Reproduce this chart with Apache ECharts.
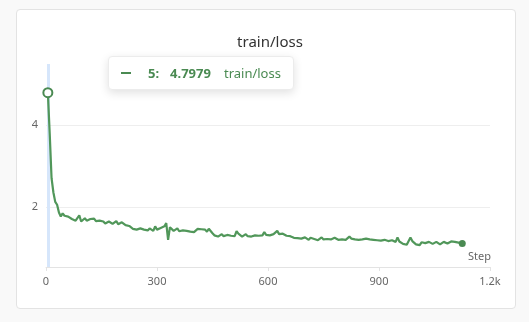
<!DOCTYPE html>
<html>
<head>
<meta charset="utf-8">
<script src="https://cdn.jsdelivr.net/npm/echarts@6/dist/echarts.min.js"></script>
<style>
html,body{margin:0;padding:0;background:#f9f9f9;width:529px;height:322px;overflow:hidden;}
#card{position:absolute;left:16px;top:9px;width:498px;height:298px;background:#fff;border:1px solid #e3e3e3;border-radius:4px;}
#chart{position:absolute;left:0;top:0;width:529px;height:322px;}
</style>
</head>
<body>
<div id="card"></div>
<div id="chart"></div>
<script>
const title = 'train/loss';
const xName = 'Step';
const xTickValues = [0, 300, 600, 900, 1200];
const xTickLabels = ['0', '300', '600', '900', '1.2k'];
const yTickValues = [2, 4];
const steps = [
  5,10,15,20,25,30,35,40,45,50,
  55,60,65,70,75,80,85,90,95,100,
  105,110,115,120,125,130,135,140,145,150,
  155,160,165,170,175,180,185,190,195,200,
  205,210,215,220,225,230,235,240,245,250,
  255,260,265,270,275,280,285,290,295,300,
  305,310,315,320,325,330,335,340,345,350,
  355,360,365,370,375,380,385,390,395,400,
  405,410,415,420,425,430,435,440,445,450,
  455,460,465,470,475,480,485,490,495,500,
  505,510,515,520,525,530,535,540,545,550,
  555,560,565,570,575,580,585,590,595,600,
  605,610,615,620,625,630,635,640,645,650,
  655,660,665,670,675,680,685,690,695,700,
  705,710,715,720,725,730,735,740,745,750,
  755,760,765,770,775,780,785,790,795,800,
  805,810,815,820,825,830,835,840,845,850,
  855,860,865,870,875,880,885,890,895,900,
  905,910,915,920,925,930,935,940,945,950,
  955,960,965,970,975,980,985,990,995,1000,
  1005,1010,1015,1020,1025,1030,1035,1040,1045,1050,
  1055,1060,1065,1070,1075,1080,1085,1090,1095,1100,
  1105,1110,1115,1120,1125
];
const loss = [
  4.7979,3.80,2.70,2.35,2.12,2.05,1.86,1.76,1.84,1.78,
  1.80,1.76,1.74,1.70,1.73,1.66,1.70,1.79,1.64,1.68,
  1.72,1.66,1.64,1.70,1.68,1.71,1.65,1.62,1.66,1.69,
  1.64,1.59,1.60,1.64,1.61,1.58,1.62,1.65,1.57,1.60,
  1.62,1.58,1.55,1.59,1.53,1.50,1.46,1.49,1.44,1.46,
  1.47,1.43,1.44,1.40,1.42,1.47,1.43,1.41,1.52,1.44,
  1.42,1.48,1.45,1.52,1.60,1.19,1.50,1.47,1.41,1.44,
  1.47,1.40,1.38,1.42,1.46,1.41,1.37,1.39,1.42,1.38,
  1.40,1.46,1.43,1.45,1.41,1.44,1.39,1.46,1.50,1.35,
  1.30,1.33,1.27,1.30,1.33,1.28,1.26,1.31,1.34,1.29,
  1.32,1.28,1.40,1.34,1.30,1.27,1.31,1.33,1.28,1.30,
  1.27,1.25,1.30,1.33,1.29,1.26,1.30,1.38,1.31,1.28,
  1.30,1.27,1.33,1.31,1.41,1.33,1.30,1.34,1.32,1.29,
  1.31,1.28,1.27,1.24,1.28,1.23,1.26,1.22,1.20,1.25,
  1.21,1.19,1.24,1.27,1.21,1.23,1.18,1.22,1.25,1.20,
  1.17,1.21,1.23,1.20,1.18,1.24,1.21,1.19,1.16,1.20,
  1.22,1.19,1.21,1.27,1.22,1.18,1.20,1.23,1.19,1.17,
  1.20,1.18,1.22,1.24,1.20,1.17,1.19,1.22,1.18,1.21,
  1.17,1.15,1.19,1.20,1.16,1.14,1.18,1.16,1.14,1.25,
  1.15,1.12,1.09,1.12,1.07,1.10,1.25,1.16,1.12,1.08,
  1.10,1.06,1.13,1.15,1.11,1.08,1.14,1.12,1.09,1.12,
  1.14,1.10,1.08,1.12,1.14,1.11,1.10,1.13,1.15,1.12,
  1.14,1.16,1.12,1.14,1.10
];

const green = '#4a8a52';
const font = '"Noto Sans", "Open Sans", sans-serif';
const data = steps.map((s, i) => [s, loss[i]]);
const lastIdx = data.length - 1;

const chart = echarts.init(document.getElementById('chart'), null, {renderer: 'canvas'});
chart.setOption({
  animation: false,
  textStyle: {fontFamily: font},
  title: {
    text: title,
    left: 265, top: 30, textAlign: 'center',
    textStyle: {fontSize: 15, fontWeight: 'normal', color: '#333', fontFamily: font}
  },
  grid: {left: 46, right: 39, top: 64, bottom: 55, containLabel: false},
  tooltip: {
    trigger: 'axis',
    alwaysShowContent: true,
    transitionDuration: 0,
    position: [108, 56],
    backgroundColor: '#fff',
    borderColor: '#ececec',
    borderWidth: 1,
    padding: [0, 12],
    extraCssText: 'box-shadow:0 3px 10px rgba(0,0,0,0.12);border-radius:4px;',
    axisPointer: {
      type: 'line',
      snap: true,
      z: 0,
      lineStyle: {color: '#d6e6fb', width: 3, type: 'solid'},
      label: {show: false}
    },
    formatter: function (params) {
      const p = params[0];
      const st = p.value[0];
      const v = p.value[1];
      return '<div style="display:flex;align-items:center;height:32px;font-family:' + font.replace(/"/g, "'") + ';font-size:13px;color:' + green + ';">' +
        '<span style="display:inline-block;width:10px;height:2.5px;background:' + green + ';margin-right:17px;"></span>' +
        '<b style="margin-right:11px;">' + st + ':</b>' +
        '<b style="margin-right:13px;">' + v.toFixed(4) + '</b>' +
        '<span>' + title + '</span></div>';
    }
  },
  xAxis: {
    type: 'value',
    min: xTickValues[0],
    max: xTickValues[xTickValues.length - 1],
    interval: xTickValues[1] - xTickValues[0],
    name: xName,
    nameLocation: 'end',
    nameGap: 1,
    nameTextStyle: {color: '#666', fontSize: 11, align: 'right', verticalAlign: 'bottom', padding: [0, 0, 5, 0]},
    axisLine: {show: true, lineStyle: {color: '#e3e3e3'}},
    axisTick: {show: true, length: 4, lineStyle: {color: '#e3e3e3'}},
    splitLine: {show: false},
    axisLabel: {
      color: '#666', fontSize: 11, margin: 9,
      formatter: function (v) { const i = xTickValues.indexOf(v); return i >= 0 ? xTickLabels[i] : ''; }
    }
  },
  yAxis: {
    type: 'value',
    min: 0.524,
    max: 5.5,
    axisLine: {show: false},
    axisTick: {show: false, customValues: yTickValues},
    splitLine: {show: true, lineStyle: {color: '#eeeeee'}},
    axisLabel: {color: '#666', fontSize: 11, margin: 8, customValues: yTickValues}
  },
  series: [{
    type: 'line',
    data: data,
    z: 3,
    showSymbol: false,
    symbol: 'emptyCircle',
    symbolSize: 9,
    lineStyle: {color: green, width: 2.2},
    itemStyle: {color: green, borderColor: green, borderWidth: 2},
    emphasis: {scale: false, lineStyle: {width: 2.2}, itemStyle: {color: '#fff', borderColor: green, borderWidth: 2}},
    markPoint: {
      symbol: 'circle',
      symbolSize: 7,
      itemStyle: {color: green},
      label: {show: false},
      silent: true,
      data: [{coord: data[lastIdx]}]
    }
  }]
});
chart.dispatchAction({type: 'showTip', seriesIndex: 0, dataIndex: 0});
</script>
</body>
</html>
